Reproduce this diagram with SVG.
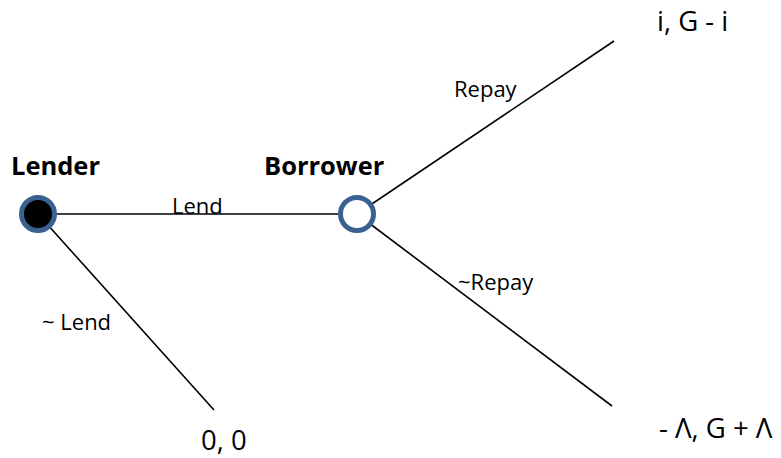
<svg xmlns="http://www.w3.org/2000/svg" width="781" height="458" viewBox="0 0 781 458">
<style>
.edge{stroke:#000;stroke-width:1.6;fill:none}
.node{stroke:#3A6190;stroke-width:5}
.lbl{font-family:"Open Sans",sans-serif;font-size:22px;fill:#000}
.pay{font-family:"Open Sans",sans-serif;font-size:27.5px;fill:#000}
.title{font-family:"Open Sans",sans-serif;font-size:25.5px;font-weight:bold;fill:#000}
</style>
<rect width="781" height="458" fill="#fff"/>
<g id="connectors">
<line class="edge" x1="38" y1="214" x2="357" y2="214"/>
<line class="edge" x1="38" y1="214" x2="214" y2="410"/>
<line class="edge" x1="357" y1="214" x2="614" y2="41"/>
<line class="edge" x1="357" y1="214" x2="612" y2="406"/>
</g>
<g id="lender">
<circle class="node" cx="38" cy="214" r="16.5" fill="#000"/>
<text class="title" x="11" y="175">Lender</text>
</g>
<g id="borrower">
<circle class="node" cx="357" cy="214" r="16.5" fill="#fff"/>
<text class="title" x="264" y="175">Borrower</text>
</g>
<g id="labels">
<text class="lbl" x="172" y="214">Lend</text>
<text class="lbl" x="42" y="330">~ Lend</text>
<text class="lbl" x="454" y="97">Repay</text>
<text class="lbl" x="458" y="290">~Repay</text>
</g>
<g id="outcome-repay"><text class="pay" x="657" y="31">i, G - i</text></g>
<g id="outcome-norepay"><text class="pay" x="659" y="438">- Λ, G + Λ</text></g>
<g id="outcome-nolend"><text class="pay" x="201" y="450">0, 0</text></g>
</svg>
